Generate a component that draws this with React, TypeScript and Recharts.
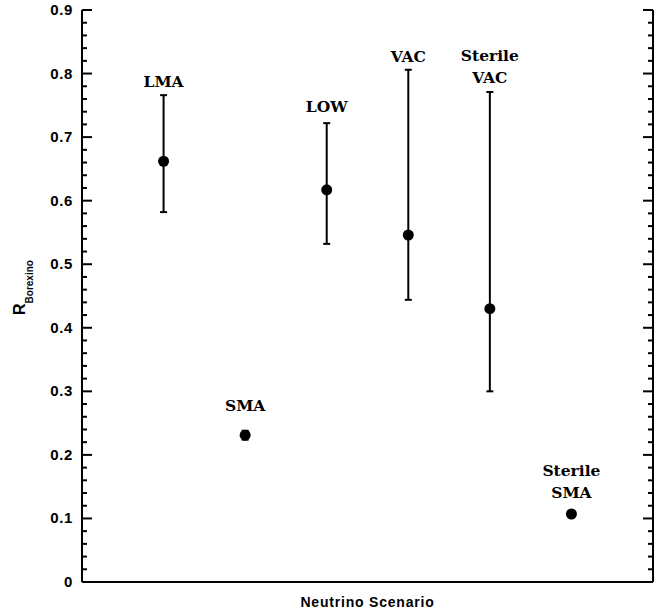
import { ErrorBar, Label, Scatter, ScatterChart, XAxis, YAxis } from 'recharts'

// Neutrino oscillation scenarios, one column each
const scenarios: Array<Array<string>> = [
  ['LMA'],
  ['SMA'],
  ['LOW'],
  ['VAC'],
  ['Sterile', 'VAC'],
  ['Sterile', 'SMA'],
]
const slots = [1, 2, 3, 4, 5, 6]
const rates = [0.662, 0.231, 0.617, 0.546, 0.43, 0.107]
const lows = [0.582, 0.224, 0.532, 0.444, 0.3, 0.102]
const highs = [0.766, 0.238, 0.722, 0.806, 0.771, 0.112]
// where each scenario's name sits (baseline of its last line)
const labelAt = [0.779, 0.269, 0.739, 0.818, 0.785, 0.132]

const majorTicks = [0, 0.1, 0.2, 0.3, 0.4, 0.5, 0.6, 0.7, 0.8, 0.9]
const minorPerMajor = 5

const yTicks: Array<number> = []
majorTicks.forEach((t, i) => {
  if (i === majorTicks.length - 1) {
    yTicks.push(t)
    return
  }
  for (let k = 0; k < minorPerMajor; k++) {
    yTicks.push(Math.round((t + (k * 0.1) / minorPerMajor) * 1000) / 1000)
  }
})

const points = slots.map((x, i) => ({
  x,
  y: rates[i],
  err: [rates[i] - lows[i], highs[i] - rates[i]],
}))

const labels = slots.map((x, i) => ({ x, y: labelAt[i], lines: scenarios[i] }))

const isMajor = (v: number) => Math.abs(v * 10 - Math.round(v * 10)) < 1e-6

const tickFont = {
  fontFamily: '"Liberation Sans", Arial, sans-serif',
  fontWeight: 700,
  fontSize: 15,
}

const frame = { stroke: '#000', strokeWidth: 2 }

function LeftTick({ x, y, payload }: any) {
  const major = isMajor(payload.value)
  return (
    <g>
      <line x1={x} x2={x + (major ? 10 : 5)} y1={y} y2={y} stroke="#000" strokeWidth={2} />
      {major && (
        <text x={x - 9} y={y} dy={5} textAnchor="end" fill="#000" {...tickFont} letterSpacing={0.6}>
          {payload.value === 0 ? '0' : payload.value.toFixed(1)}
        </text>
      )}
    </g>
  )
}

function RightTick({ x, y, payload }: any) {
  const major = isMajor(payload.value)
  return <line x1={x} x2={x - (major ? 10 : 5)} y1={y} y2={y} stroke="#000" strokeWidth={2} />
}

function Dot({ cx, cy }: any) {
  return <circle cx={cx} cy={cy} r={5.5} fill="#000" />
}

function ScenarioName({ cx, cy, payload }: any) {
  const lines: Array<string> = payload.lines
  return (
    <text
      textAnchor="middle"
      fill="#000"
      fontFamily='"DejaVu Serif", serif'
      fontWeight={700}
      fontSize={15.5}
    >
      {lines.map((l, i) => (
        <tspan key={l + i} x={cx} y={cy - (lines.length - 1 - i) * 22}>
          {l}
        </tspan>
      ))}
    </text>
  )
}

export default function App() {
  return (
    <div style={{ width: 672, height: 616 }}>
      <style>{'body{margin:0}'}</style>
      <ScatterChart width={672} height={616} margin={{ top: 10, right: 0, bottom: 0, left: 0 }}>
        <XAxis
          xAxisId="bottom"
          type="number"
          dataKey="x"
          domain={[0, 7]}
          ticks={[]}
          tick={false}
          tickLine={false}
          axisLine={frame}
          height={34}
        >
          <Label
            content={({ viewBox }: any) => (
              <text
                x={viewBox.x + viewBox.width / 2}
                y={viewBox.y + 25}
                textAnchor="middle"
                fill="#000"
                {...tickFont}
                fontSize={14}
                letterSpacing={0.8}
              >
                Neutrino Scenario
              </text>
            )}
          />
        </XAxis>
        <XAxis
          xAxisId="top"
          orientation="top"
          type="number"
          dataKey="x"
          domain={[0, 7]}
          ticks={[]}
          tick={false}
          tickLine={false}
          axisLine={frame}
          height={0}
        />
        <YAxis
          yAxisId="left"
          type="number"
          dataKey="y"
          domain={[0, 0.9]}
          ticks={yTicks}
          interval={0}
          tick={<LeftTick />}
          tickSize={0}
          tickMargin={0}
          tickLine={false}
          axisLine={frame}
          width={82}
        >
          <Label
            content={({ viewBox }: any) => {
              const cx = viewBox.x + 25
              const cy = viewBox.y + viewBox.height / 2 + 19
              return (
                <text
                  transform={`rotate(-90 ${cx} ${cy})`}
                  x={cx}
                  y={cy}
                  fill="#000"
                  fontFamily='"Liberation Sans", Arial, sans-serif'
                  fontWeight={700}
                >
                  <tspan fontSize={16}>R</tspan>
                  <tspan fontSize={10} dy={8}>
                    Borexino
                  </tspan>
                </text>
              )
            }}
          />
        </YAxis>
        <YAxis
          yAxisId="right"
          orientation="right"
          type="number"
          dataKey="y"
          domain={[0, 0.9]}
          ticks={yTicks}
          interval={0}
          tick={<RightTick />}
          tickSize={0}
          tickMargin={0}
          tickLine={false}
          axisLine={frame}
          width={19}
        />
        <Scatter
          xAxisId="bottom"
          yAxisId="left"
          data={points}
          shape={<Dot />}
          isAnimationActive={false}
        >
          <ErrorBar dataKey="err" direction="y" width={3.5} stroke="#000" strokeWidth={2} />
        </Scatter>
        <Scatter
          xAxisId="top"
          yAxisId="right"
          data={labels}
          shape={<ScenarioName />}
          isAnimationActive={false}
        />
      </ScatterChart>
    </div>
  )
}
